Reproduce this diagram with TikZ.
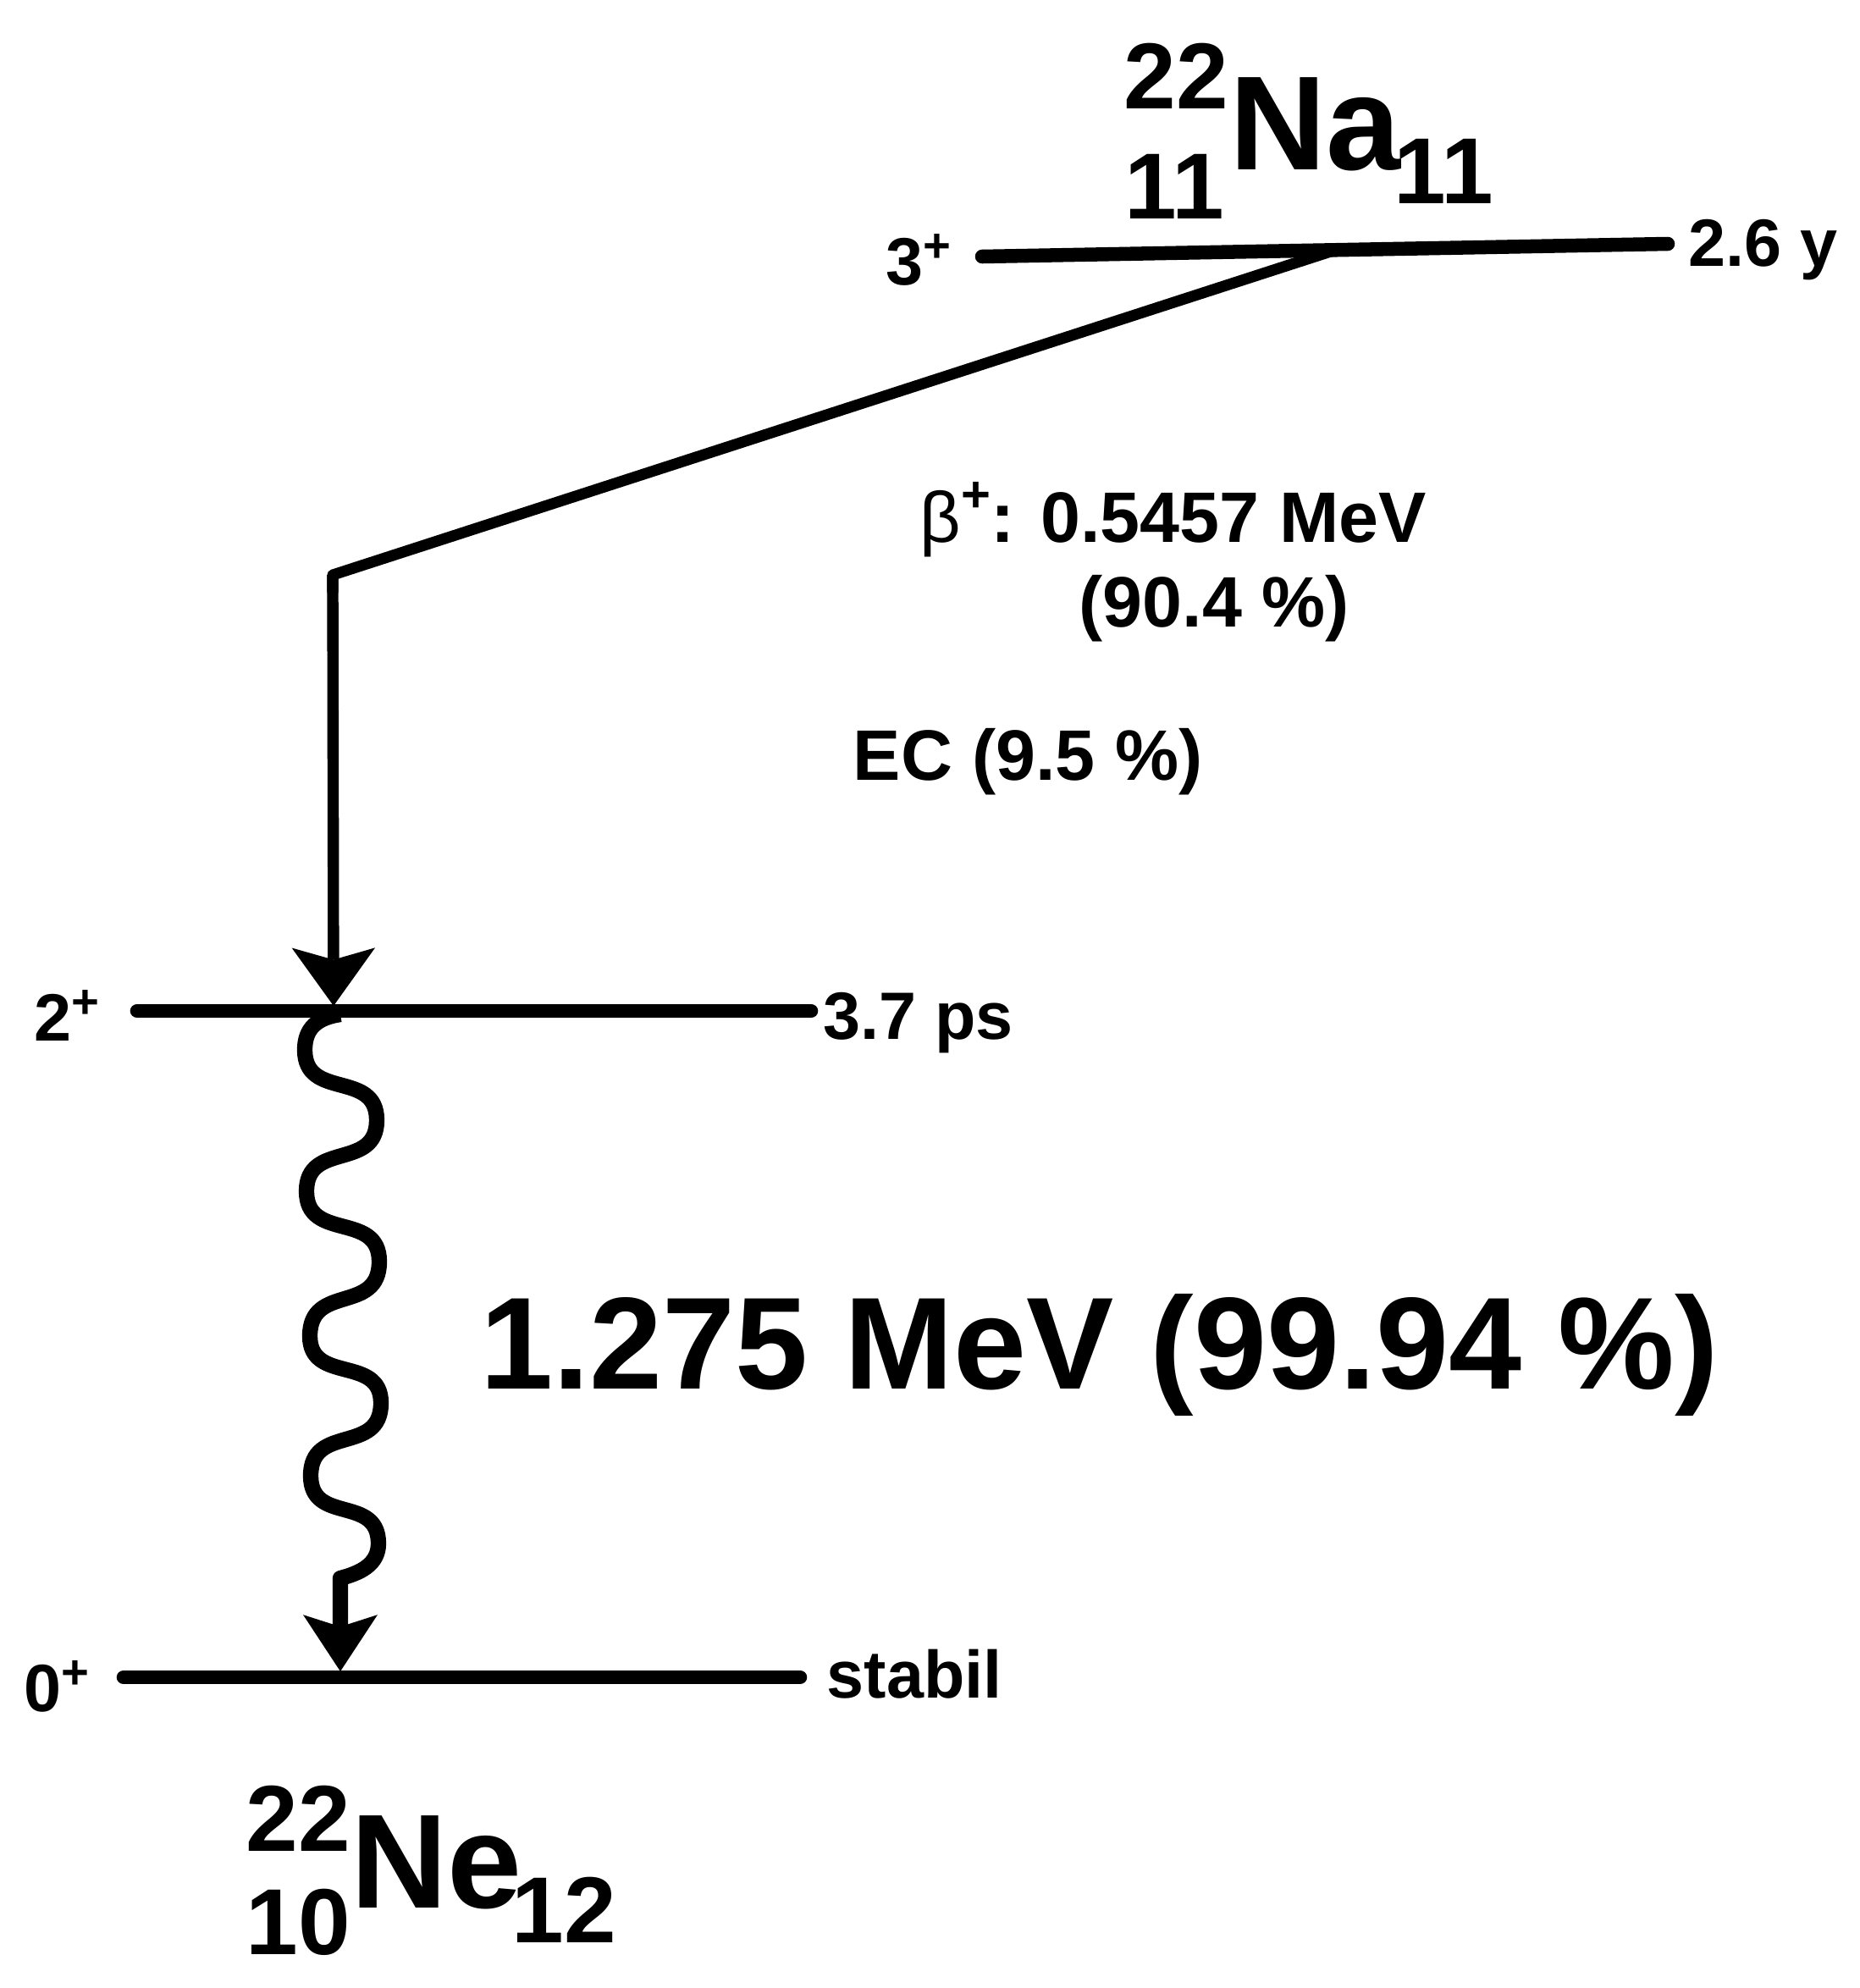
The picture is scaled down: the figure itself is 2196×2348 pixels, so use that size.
\documentclass[tikz,border=0pt]{standalone}
\usepackage{fontspec}
\setmainfont{Liberation Sans}
\usetikzlibrary{arrows.meta}
\newcommand\spl[2]{\raisebox{#2}{\fontsize{#1}{#1}\selectfont\bfseries +}}
\begin{document}
\begin{tikzpicture}[x=0.01cm,y=-0.01cm,
  level/.style={line width=4.7pt,line cap=round},
  lab/.style={inner sep=0pt,anchor=base west,font=\fontsize{22.5}{22.5}\selectfont\bfseries},
  mid/.style={inner sep=0pt,anchor=base west,font=\fontsize{24}{24}\selectfont\bfseries},
  big/.style={inner sep=0pt,anchor=base west,font=\fontsize{44}{44}\selectfont\bfseries},
  elem/.style={inner sep=0pt,anchor=base west,font=\fontsize{45}{45}\selectfont\bfseries},
  nuc/.style={inner sep=0pt,anchor=base west,font=\fontsize{31.5}{31.5}\selectfont\bfseries},
  tiptop/.style={-{Stealth[length=19.5pt,width=28pt,inset=4pt,line width=0pt]}},
  tipbot/.style={-{Stealth[length=19pt,width=25pt,inset=4pt,line width=0pt]}},
]
\fill[white] (0,0) rectangle (2196,2348);
\useasboundingbox (0,0) rectangle (2196,2348);

\coordinate (naL) at (1160,303);
\coordinate (naR) at (1970,288);
\coordinate (j) at (1575,296);
\coordinate (kink) at (393,679);
\coordinate (t2) at (394,1188);
\coordinate (e2L) at (162,1194);
\coordinate (e2R) at (958,1194);
\coordinate (e0L) at (146,1981);
\coordinate (e0R) at (945,1981);
\coordinate (w0) at (402,1198);
\coordinate (t0) at (402,1974);

\draw[level] (naL) -- (naR);
\draw[level] (e2L) -- (e2R);
\draw[level] (e0L) -- (e0R);
\draw[line width=3.7pt,line join=round,line cap=round] (j) -- (kink) -- ([yshift=-0.2cm]kink);
\draw[line width=3.8pt,tiptop] (kink) -- (t2);

\draw[line width=5.2pt,tipbot,line join=round] (w0)
  .. controls (375,1202) and (360,1214) .. (360,1240)
  .. controls (360,1300) and (445,1263) .. (445,1323)
  .. controls (445,1383) and (362,1347) .. (362,1407)
  .. controls (362,1467) and (448,1430) .. (448,1490)
  .. controls (448,1553) and (366,1515) .. (366,1578)
  .. controls (366,1635) and (450,1600) .. (450,1657)
  .. controls (450,1719) and (367,1681) .. (367,1743)
  .. controls (367,1801) and (447,1765) .. (447,1823)
  .. controls (447,1848) and (425,1858) .. (402,1864)
  -- (t0);

% Na label
\node[nuc] (naA) at (1327,128) {22};
\node[elem] (naS) at (1452,200) {Na};
\node[nuc] (naZ) at (1328,258) {11};
\node[nuc] (naN) at (1646,240) {11};

% Ne label
\node[nuc] (neA) at (290,2186) {22};
\node[elem] (neS) at (414,2253) {Ne};
\node[nuc] (neZ) at (290,2308) {10};
\node[nuc] (neN) at (604,2294) {12};

% level labels
\node[lab] (s3) at (1046,336) {3\spl{16}{7.5pt}};
\node[lab] (h3) at (1994,314) {2.6 y};
\node[lab] (s2) at (40,1229) {2\spl{16}{7.5pt}};
\node[lab] (h2) at (972,1227) {3.7 ps};
\node[lab] (s0) at (28,2021) {0\spl{16}{7.5pt}};
\node[lab] (h0) at (976,2005) {stabil};

% decay labels
\node[mid] (beta) at (1086,640) {{\mdseries β}\spl{17}{10pt}: 0.5457 MeV};
\node[mid] (bpct) at (1274,740) {(90.4 \%)};
\node[mid] (ec) at (1007,921) {EC (9.5 \%)};
\node[big] (gam) at (567,1640) {1.275 MeV (99.94 \%)};
\end{tikzpicture}
\end{document}
